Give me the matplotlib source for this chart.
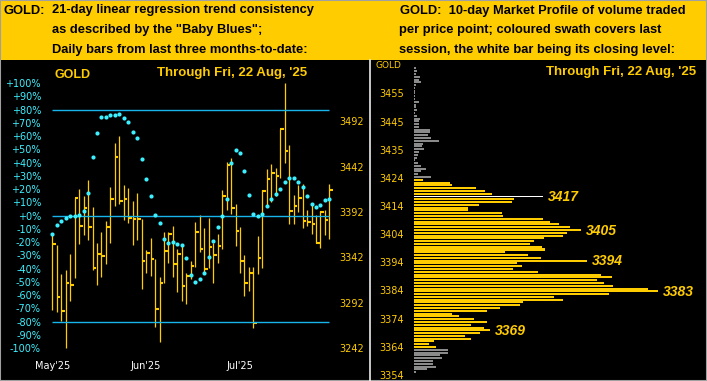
import numpy as np
import matplotlib
matplotlib.use("Agg")
import matplotlib.pyplot as plt
from matplotlib.lines import Line2D
from matplotlib.patches import Rectangle

# left panel: daily bars (price scale) and the "Baby Blues" (percent scale)
highs = [3366.7, 3355.7, 3323.8, 3328.2, 3345.8, 3407.0, 3417.3, 3409.6, 3427.2, 3397.1,
         3357.5, 3370.0, 3382.5, 3419.1, 3468.3, 3475.6, 3421.7, 3418.0, 3404.1, 3412.5,
         3383.9, 3350.2, 3363.4, 3340.3, 3320.9, 3370.4, 3370.4, 3376.6, 3351.7, 3355.3,
         3324.5, 3338.1, 3381.0, 3388.3, 3374.4, 3385.4, 3357.5, 3367.8, 3416.2, 3447.0,
         3451.0, 3400.8, 3375.5, 3344.7, 3331.5, 3331.5, 3365.6, 3416.2, 3438.9, 3444.8,
         3440.8, 3482.9, 3534.2, 3465.7, 3410.7, 3421.3, 3422.4, 3394.2, 3400.4, 3388.7,
         3393.1, 3394.2, 3422.4]
lows = [3284.2, 3282.4, 3272.5, 3242.1, 3294.5, 3319.0, 3356.8, 3366.7, 3361.2, 3328.2,
        3311.7, 3320.9, 3334.8, 3358.3, 3398.6, 3400.8, 3383.2, 3380.3, 3355.7, 3361.2,
        3307.3, 3325.3, 3322.0, 3265.9, 3249.4, 3313.5, 3336.3, 3320.9, 3304.4, 3294.5,
        3290.4, 3318.3, 3331.9, 3348.4, 3325.3, 3330.0, 3314.3, 3336.3, 3350.9, 3394.2,
        3389.8, 3355.0, 3325.3, 3300.0, 3305.5, 3264.1, 3323.8, 3330.8, 3397.9, 3403.4,
        3409.6, 3429.8, 3445.5, 3378.8, 3378.8, 3392.4, 3374.8, 3377.0, 3368.2, 3357.5,
        3352.8, 3366.7, 3362.3]
closes = [3356.8, 3298.9, 3283.5, 3314.3, 3312.1, 3407.0, 3376.6, 3396.8, 3375.9, 3330.8,
          3345.8, 3344.0, 3375.9, 3406.7, 3452.9, 3404.5, 3406.7, 3385.8, 3383.9, 3383.9,
          3338.5, 3346.5, 3340.7, 3285.7, 3314.3, 3349.5, 3367.8, 3334.8, 3346.2, 3311.0,
          3322.0, 3333.0, 3370.4, 3351.3, 3329.7, 3353.9, 3344.7, 3355.0, 3409.6, 3443.7,
          3396.8, 3371.5, 3338.1, 3313.5, 3325.3, 3269.9, 3341.8, 3415.5, 3428.7, 3435.3,
          3432.0, 3482.9, 3458.7, 3393.1, 3399.0, 3407.0, 3382.5, 3381.4, 3378.4, 3358.3,
          3392.0, 3383.2, 3416.6]
baby_blues = [-13.8, -7.0, -3.7, -1.5, -0.2, -0.2, 0.5, 3.8, 17.4, 44.6,
              62.7, 74.7, 74.7, 76.3, 76.3, 77.0, 74.0, 71.0, 63.4, 58.9,
              43.0, 27.7, 14.9, 0.5, -5.5, -17.3, -20.4, -19.6, -21.4, -22.1,
              -31.9, -44.5, -49.8, -47.8, -43.0, -30.9, -19.1, -8.5, -0.2, 12.4,
              39.5, 49.6, 47.6, 34.0, 15.6, 1.3, 0.0, 1.3, 7.6, 12.9,
              16.6, 20.4, 25.7, 28.7, 28.7, 25.7, 21.9, 15.1, 9.1, 6.8,
              8.1, 12.1, 12.9]
pct_ticks = list(range(100, -101, -10))
price_ticks = [3242, 3292, 3342, 3392, 3442, 3492]
month_labels = ["May'25", "Jun'25", "Jul'25"]
month_pos = [0, 21, 42]
trend_levels = [80, 0, -80]

# right panel: 10-day market profile, one row per price point (top to bottom)
profile_prices = np.arange(3464, 3354, -1)
profile_volume = [2, 3.3, 2, 6, 5.3, 6.7, 2, 1.3, 1.3, 1.3,
                  1.3, 1.3, 5.3, 2, 2, 2.7, 1.3, 3.3, 6, 5.3,
                  5.3, 5.3, 16, 16, 14.3, 16.7, 25, 9.3, 7.7, 10,
                  5.3, 4.3, 2.7, 1.3, 4.3, 7, 12, 6.7, 4.3, 17,
                  9, 36, 38, 62, 71, 78, 128.7, 100, 98, 65,
                  54, 54, 88, 89, 129, 136, 145, 156, 167, 153,
                  149, 130, 120, 116, 128, 131, 91, 114, 127, 173,
                  103, 108, 99, 124, 187, 198, 183, 190, 199, 234,
                  244, 195, 140, 149, 109, 106, 86, 73, 38, 45,
                  60, 73, 57, 70, 76, 66, 51, 57, 20, 15,
                  22, 34, 34, 26, 28, 19, 19, 22, 13, 2]
session_low, session_high, close_level = 3364, 3424, 3418
node_prices = [3418, 3406, 3395, 3384, 3370]
node_labels = ["3417", "3405", "3394", "3383", "3369"]
profile_tick_labels = ["3354", "3364", "3374", "3384", "3394", "3404",
                       "3414", "3424", "3435", "3445", "3455"]

GOLD = "#FFCC00"
CYAN = "#3CF0FF"
LINE = "#18B4EC"
GRAY = "#8A8A8A"
W, H = 707, 381


def box(x0, y0, x1, y1):
    # pixel box (top-left origin) -> figure fraction rect
    return [x0 / W, 1 - y1 / H, (x1 - x0) / W, (y1 - y0) / H]


fig = plt.figure(figsize=(W / 100, H / 100), dpi=100, facecolor="black")

# yellow header band
fig.add_artist(Rectangle((0, 1 - 59.5 / H), 1, 59.5 / H, transform=fig.transFigure,
                         facecolor=GOLD, edgecolor="none"))
hdr = dict(fontsize=9.3, fontweight="bold", family="Liberation Sans", color="black", va="center")
fig.text(4 / W, 1 - 10.5 / H, "GOLD:", **hdr)
fig.text(52 / W, 1 - 10.5 / H, "21-day linear regression trend consistency", **hdr)
fig.text(52 / W, 1 - 30.5 / H, 'as described by the "Baby Blues";', **hdr)
fig.text(52 / W, 1 - 50 / H, "Daily bars from last three months-to-date:", **hdr)
fig.text(400 / W, 1 - 11 / H, "GOLD:  10-day Market Profile of volume traded", **hdr)
fig.text(399 / W, 1 - 30.5 / H, "per price point; coloured swath covers last", **hdr)
fig.text(399 / W, 1 - 50 / H, "session, the white bar being its closing level:", **hdr)

# ---- left panel ----
n = len(closes)
x = np.arange(n)
ax_pct = fig.add_axes(box(46, 62, 336, 356))
ax_px = ax_pct.twinx()
ax_pct.set_zorder(ax_px.get_zorder() + 1)
ax_pct.patch.set_visible(False)
ax_px.set_facecolor("black")

ax_px.vlines(x, lows, highs, color=GOLD, lw=0.9)
ax_px.hlines(closes, x, x + 0.8, color=GOLD, lw=1.5)
ax_pct.hlines(trend_levels, 0, n - 1, color=LINE, lw=1.0)
ax_pct.plot(x, baby_blues, "o", ms=3.0, color=CYAN, mec="none")

ax_pct.set_xlim(-1.41, 63.48)
ax_pct.set_ylim(-105.9, 116.0)
ax_px.set_ylim(3233.6, 3557.0)

ax_pct.set_yticks(pct_ticks)
ax_pct.set_yticklabels([f"{v:+d}%" if v >= 0 else f"{v:d}%" for v in pct_ticks])
ax_px.set_yticks(price_ticks)
ax_px.set_yticklabels([str(v) for v in price_ticks])
ax_pct.set_xticks(month_pos)
ax_pct.set_xticklabels(month_labels)

ax_pct.tick_params(axis="y", length=0, pad=3.6, labelsize=7, labelcolor=CYAN)
ax_pct.tick_params(axis="x", length=0, pad=3.5, labelsize=7, labelcolor="white")
ax_px.tick_params(axis="y", length=0, pad=2.2, labelsize=7, labelcolor=GOLD)
for a in (ax_pct, ax_px):
    for s in a.spines.values():
        s.set_visible(False)

fig.text(55 / W, 1 - 75 / H, "GOLD", fontsize=9, fontweight="bold", color=GOLD,
         family="Liberation Sans", va="center")
fig.text(157 / W, 1 - 73 / H, "Through Fri, 22 Aug, '25", fontsize=9.5, fontweight="bold",
         color=GOLD, family="Liberation Sans", va="center")

# ---- right panel ----
ax2 = fig.add_axes(box(414, 62, 707, 381))
ax2.set_facecolor("black")
colors = []
heights = []
for p in profile_prices:
    if p == close_level:
        colors.append("white")
        heights.append(0.4)
    elif session_low <= p <= session_high:
        colors.append(GOLD)
        heights.append(0.72)
    else:
        colors.append(GRAY)
        heights.append(0.72)
ax2.barh(profile_prices, profile_volume, height=heights, color=colors, left=0)

vol_at = dict(zip(profile_prices, profile_volume))
for p, lab in zip(node_prices, node_labels):
    ax2.text(vol_at[p] + 5, p - 0.3, lab, fontsize=10, fontweight="bold", fontstyle="italic",
             color=GOLD, family="Liberation Sans", va="center")

ax2.set_xlim(0, 293)
ax2.set_ylim(3351.8, 3466.3)
ax2.set_xticks([])
ax2.set_yticks(np.linspace(3354, 3455, 11))
ax2.set_yticklabels(profile_tick_labels)
ax2.tick_params(axis="y", length=0, pad=7.2, labelsize=7, labelcolor=GOLD)
for s in ax2.spines.values():
    s.set_visible(False)

fig.text(375 / W, 1 - 66 / H, "GOLD", fontsize=6.5, color=GOLD, va="center")
fig.text(546 / W, 1 - 72.5 / H, "Through Fri, 22 Aug, '25", fontsize=9.5, fontweight="bold",
         color=GOLD, family="Liberation Sans", va="center")

# white divider and thin frame
fig.add_artist(Line2D([369.5 / W, 369.5 / W], [0, 1 - 59.5 / H], color="white", lw=1.1,
                      transform=fig.transFigure))
fig.add_artist(Rectangle((0, 0), 1, 1, transform=fig.transFigure, facecolor="none",
                         edgecolor="#A0A0A0", lw=1.5))

fig.savefig("out.png", dpi=100, facecolor="black")
